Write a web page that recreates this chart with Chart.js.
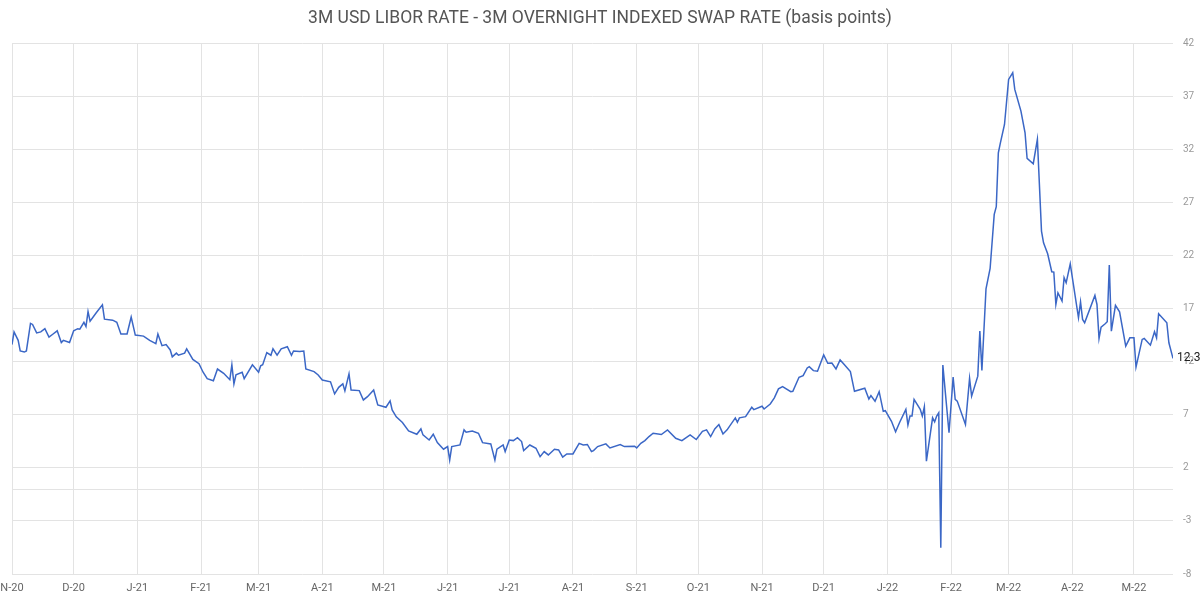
<!DOCTYPE html>
<html>
<head>
<meta charset="utf-8">
<script src="https://cdn.jsdelivr.net/npm/chart.js@4"></script>
<style>
  html, body { margin: 0; padding: 0; background: #fff; }
  #wrap { width: 1200px; height: 601px; }
</style>
</head>
<body>
<div id="wrap"><canvas id="chart"></canvas></div>
<script>
const title = "3M USD LIBOR RATE - 3M OVERNIGHT INDEXED SWAP RATE (basis points)";

// days counted from 1 Nov 2020
const days = [
  0, 1, 3, 4, 6, 7, 9, 10, 12, 14, 16, 18, 20, 22, 24, 25, 28, 30, 32, 33,
  35, 36, 37, 38, 41, 44, 45, 49, 51, 53, 56, 58, 60, 64, 67, 70, 71, 73, 75, 77,
  78, 80, 81, 84, 85, 88, 91, 93, 95, 98, 100, 103, 106, 107, 108, 109, 112, 113, 117, 120,
  121, 122, 124, 126, 127, 129, 131, 134, 136, 137, 140,
  142, 143, 147, 149, 151, 155, 157, 159, 161, 162, 164, 165, 169, 171, 173, 176, 178, 182, 184, 185,
  187, 190, 193, 197, 199, 200, 203, 205, 207, 210, 212, 213, 214, 218, 220, 221, 224, 227, 229, 233,
  235, 236, 239, 240, 242, 244, 246, 248, 249, 252, 255, 257, 259, 261, 264, 266, 268, 270, 273, 276,
  278, 280, 282, 283, 285,
  289, 291, 296, 298, 303, 304, 306, 308, 310, 312, 316, 319, 323, 326, 330, 333, 336, 338, 340, 342,
  344, 346, 348, 352, 353, 354, 357, 360, 361, 365, 366, 369, 371, 373, 375, 379, 380, 383, 385, 387,
  388, 390, 392, 395, 397, 399, 401, 403, 405, 408, 410, 415, 417, 418, 420, 422, 424, 425, 428, 430, 432,
  435, 436, 437, 438, 439, 442, 443, 444, 445, 448, 449, 450, 451, 452, 453, 456, 458, 459, 460, 464,
  466, 467, 470, 471, 472, 474, 476, 478, 479, 480, 481, 483, 485, 487, 488, 491, 493, 494, 497, 499,
  501, 502, 504, 506, 507, 508, 509, 511, 512, 513, 515, 519, 520, 521, 522, 527, 528, 529, 530, 532,
  533, 534, 535, 537, 539, 542, 544, 546, 547, 550, 551, 554, 556, 557, 558, 562, 563, 565
];

const spread = [
  13.6, 14.8, 14.0, 13.0, 12.9, 13.0, 15.6, 15.5, 14.7, 14.8, 15.1, 14.3, 14.6, 14.9, 13.8, 14.0, 13.8, 14.9, 15.1, 15.05,
  15.7, 15.3, 16.7, 15.8, 16.6, 17.35, 16.0, 15.9, 15.7, 14.6, 14.6, 16.2, 14.5, 14.4, 14.0, 13.7, 14.6, 13.5, 13.6, 13.1,
  12.45, 12.8, 12.6, 12.8, 13.2, 12.2, 11.8, 11.0, 10.4, 10.2, 11.3, 10.9, 10.3, 11.7, 9.9, 10.75, 11.0, 10.4, 11.7, 11.0,
  11.6, 11.7, 12.85, 12.6, 13.2, 12.6, 13.2, 13.4, 12.6, 13.0, 12.95,
  13.0, 11.3, 11.06, 10.74, 10.27, 10.1, 8.96, 9.58, 9.9, 9.24, 10.84, 9.33, 9.27, 8.39, 8.7, 9.33, 7.92, 7.7, 8.3, 7.45,
  6.8, 6.26, 5.47, 5.16, 5.66, 5.1, 4.62, 5.16, 4.37, 3.75, 4.0, 2.74, 4.0, 4.15, 5.57, 5.35, 5.47, 5.25, 4.37, 4.25,
  2.74, 3.75, 4.15, 3.53, 4.62, 4.56, 4.84, 4.47, 3.62, 4.15, 3.84, 3.05, 3.53, 3.21, 3.75, 3.68, 3.0, 3.3, 3.3, 4.3,
  4.15, 4.2, 3.53, 3.62, 4.0,
  4.25, 3.87, 4.18, 4.0, 4.03, 3.87, 4.31, 4.56, 4.94, 5.25, 5.13, 5.57, 4.78, 4.56, 5.1, 4.66, 5.44, 5.57, 4.94, 5.66,
  6.07, 5.19, 5.57, 6.7, 6.29, 6.7, 6.82, 7.7, 7.48, 7.8, 7.54, 8.01, 8.58, 9.43, 9.65, 9.17, 9.2, 10.52, 10.68, 11.4,
  11.53, 11.15, 11.09, 12.63, 11.84, 11.87, 11.31, 12.16, 11.72, 11.06, 9.2, 9.49, 8.48, 8.8, 8.27, 9.17, 7.32, 7.38, 6.38, 5.4, 6.29,
  7.5, 6.02, 6.87, 6.87, 8.44, 7.5, 6.87, 7.75, 2.63, 6.71, 6.33, 6.87, 7.18, -5.53, 11.67, 5.3, 10.54, 8.44, 8.28, 6.08,
  10.42, 8.75, 10.63, 14.87, 11.17, 18.86, 20.77, 25.86, 26.58, 31.66, 32.6, 34.33, 38.57, 39.2, 37.63, 35.59, 33.55, 31.13, 30.63, 32.92,
  24.29, 23.19, 22.15, 20.46, 20.43, 17.38, 18.48, 17.7, 19.9, 19.42, 21.21, 16.13, 17.63, 15.97, 15.66, 18.23, 17.38, 14.18, 15.25, 15.56,
  15.75, 21.09, 14.87, 17.29, 16.69, 13.46, 14.24, 14.24, 11.48, 14.09, 14.18, 13.55, 14.81, 14.24, 16.5, 15.66, 13.77, 12.3
];

const monthDays = [0, 30, 61, 92, 120, 151, 181, 212, 242, 273, 304, 334, 365, 395, 426, 457, 485, 516, 546];
const monthLabels = ["N-20", "D-20", "J-21", "F-21", "M-21", "A-21", "M-21", "J-21", "J-21", "A-21",
  "S-21", "O-21", "N-21", "D-21", "J-22", "F-22", "M-22", "A-22", "M-22"];
const yTicks = [-8, -3, 0, 2, 7, 12, 17, 22, 27, 32, 37, 42];

const gridColor = "#e3e3e3";
const fontFamily = "Roboto, 'DejaVu Sans', sans-serif";

// last value printed at the right edge
const lastLabel = {
  id: "lastLabel",
  afterDatasetsDraw(chart) {
    const pts = chart.getDatasetMeta(0).data;
    const p = pts[pts.length - 1];
    const ctx = chart.ctx;
    ctx.save();
    ctx.font = "12px " + fontFamily;
    ctx.fillStyle = "#222";
    ctx.textBaseline = "middle";
    ctx.fillText(spread[spread.length - 1].toFixed(1), chart.chartArea.right + 4, p.y);
    ctx.restore();
  }
};

new Chart(document.getElementById("chart"), {
  type: "line",
  data: {
    datasets: [{
      label: "spread",
      data: days.map((d, i) => ({ x: d, y: spread[i] })),
      borderColor: "#3b67c6",
      borderWidth: 1.5,
      pointRadius: 0,
      tension: 0,
      fill: false
    }]
  },
  options: {
    responsive: true,
    maintainAspectRatio: false,
    animation: false,
    layout: { padding: 0 },
    plugins: {
      legend: { display: false },
      tooltip: { enabled: false },
      title: {
        display: true,
        text: title,
        color: "#555",
        font: { family: fontFamily, size: 17.5, weight: "normal" },
        padding: { top: 8, bottom: 14 }
      }
    },
    scales: {
      x: {
        type: "linear",
        min: 0,
        max: 565,
        afterBuildTicks: axis => { axis.ticks = monthDays.map(v => ({ value: v })); },
        afterFit: axis => {
          axis.height = 27;
          axis.paddingLeft = 12;
          axis.paddingRight = 0;
        },
        ticks: {
          autoSkip: false,
          maxRotation: 0,
          color: "#666",
          font: { family: fontFamily, size: 11 },
          padding: 8,
          callback: (v, i) => monthLabels[i]
        },
        grid: { color: gridColor, drawTicks: false },
        border: { display: false }
      },
      y: {
        position: "right",
        min: -8,
        max: 42,
        afterBuildTicks: axis => { axis.ticks = yTicks.map(v => ({ value: v })); },
        afterFit: axis => { axis.width = 27; },
        ticks: {
          color: "#999",
          font: { family: fontFamily, size: 10 },
          padding: 10,
          callback: v => (v === 0 ? "" : v)
        },
        grid: { color: gridColor, drawTicks: false },
        border: { display: false }
      }
    }
  },
  plugins: [lastLabel]
});
</script>
</body>
</html>
